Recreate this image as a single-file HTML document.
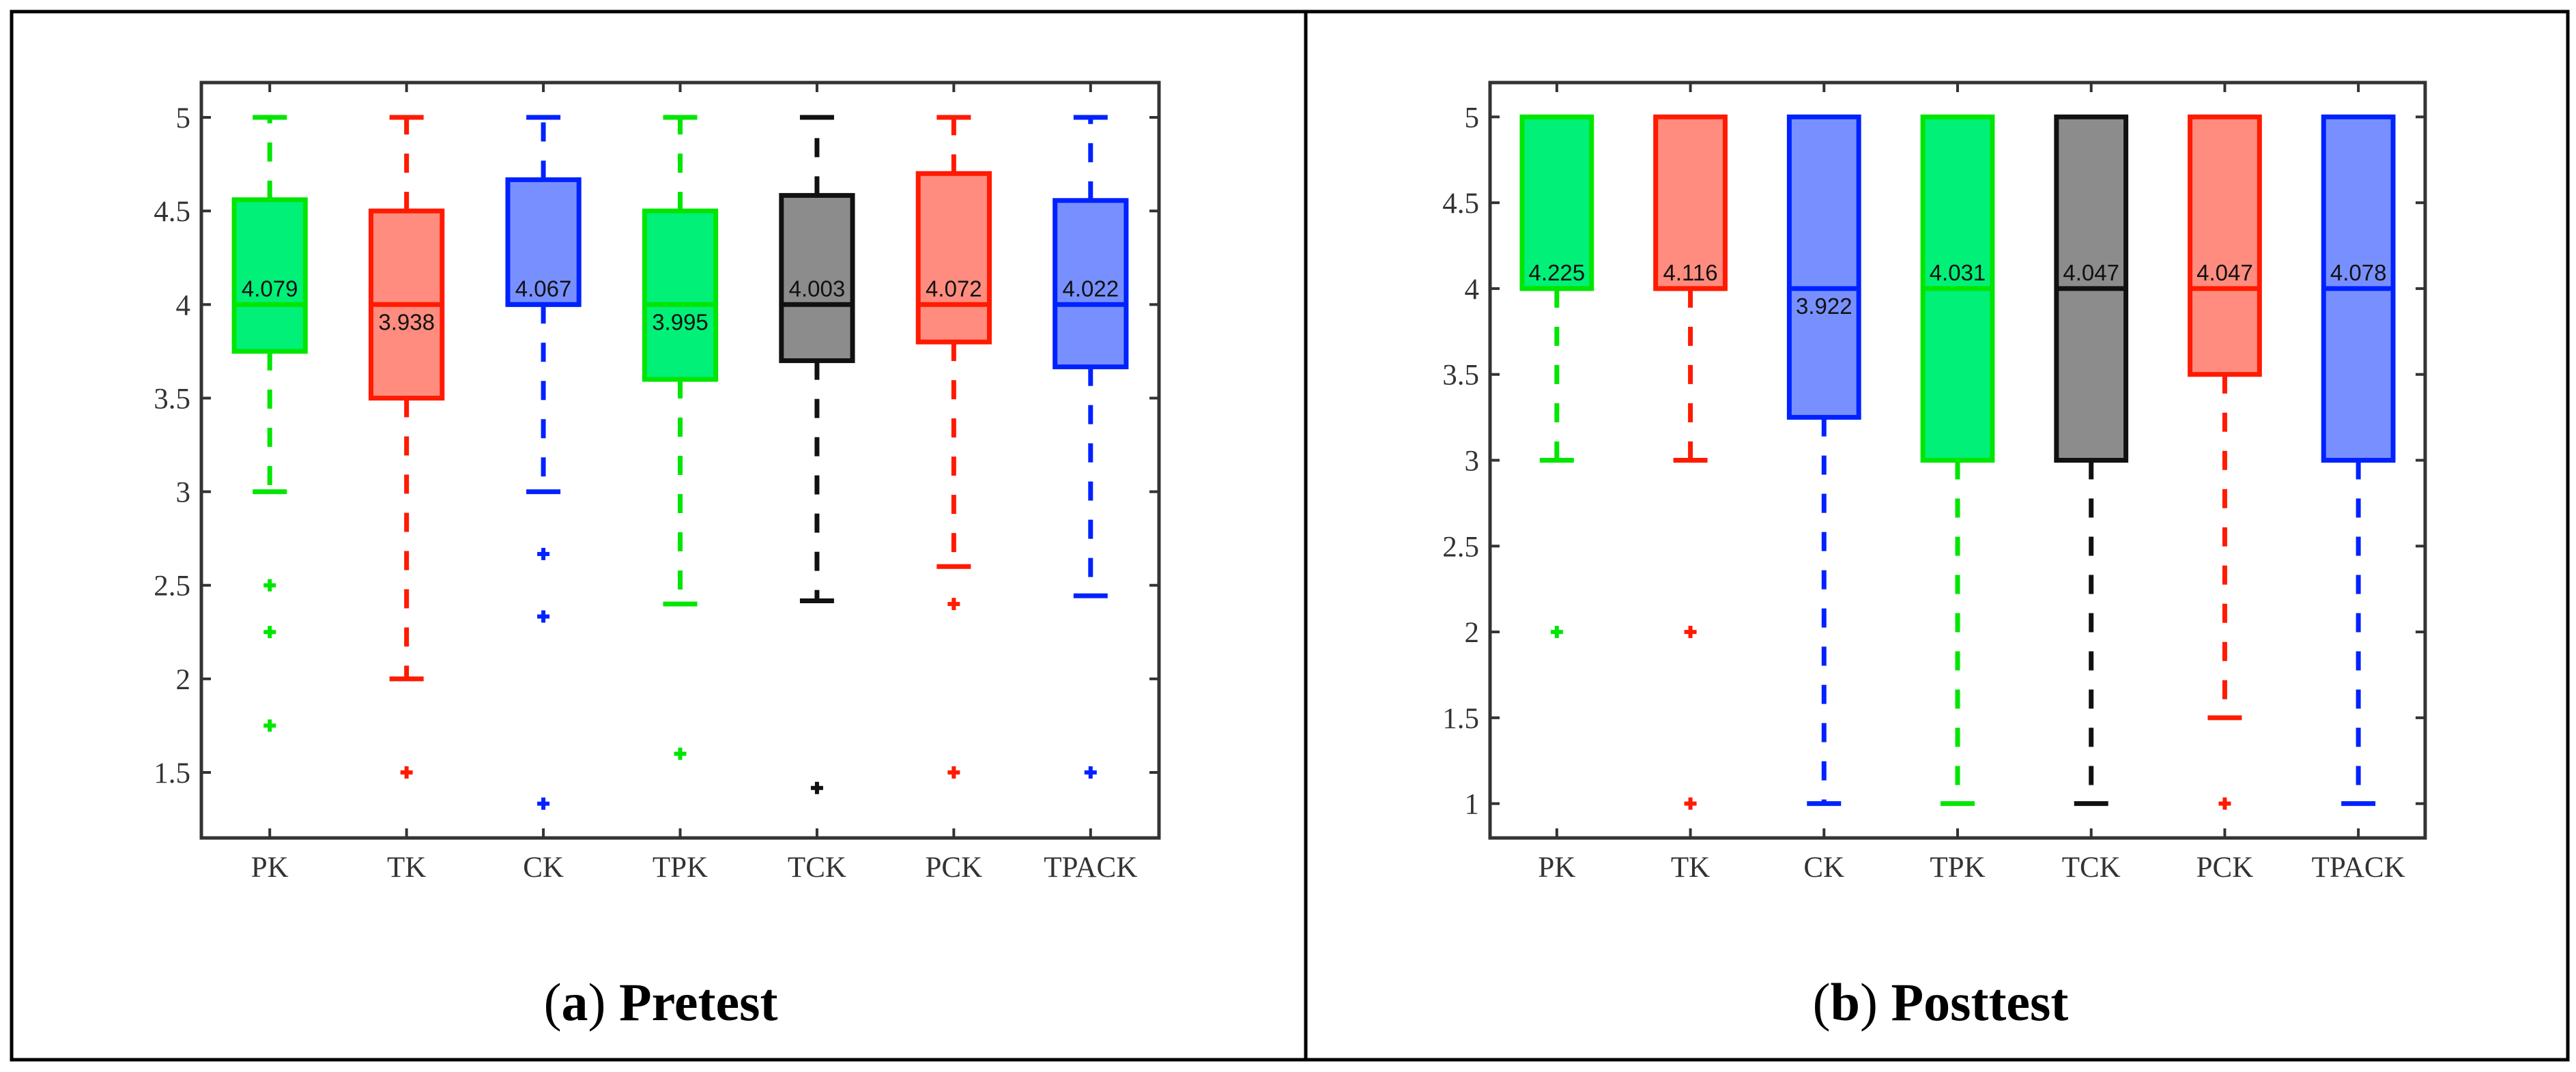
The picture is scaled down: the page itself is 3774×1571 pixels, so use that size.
<!DOCTYPE html>
<html><head><meta charset="utf-8"><style>
html,body{margin:0;padding:0;background:#fff;}
svg{display:block;}
.tk{font-family:"Liberation Serif",serif;font-size:43px;fill:#333;}
.ml{font-family:"Liberation Sans",sans-serif;font-size:33px;fill:#111;}
.ttl{font-family:"Liberation Serif",serif;font-size:78px;fill:#000;}
</style></head><body>
<svg id="fig" width="3774" height="1571" viewBox="0 0 3774 1571">
<rect x="17" y="17" width="3745" height="1536" fill="none" stroke="#000" stroke-width="5"/>
<line x1="1913" y1="17" x2="1913" y2="1553" stroke="#000" stroke-width="5"/>
<text class="ttl" x="968" y="1495" text-anchor="middle">(<tspan font-weight="bold">a</tspan>) <tspan font-weight="bold">Pretest</tspan></text>
<text class="ttl" x="2843" y="1495" text-anchor="middle">(<tspan font-weight="bold">b</tspan>) <tspan font-weight="bold">Posttest</tspan></text>
<g id="pa"></g>
<g id="pb"></g>
</svg>
<script>
const categories = ["PK","TK","CK","TPK","TCK","PCK","TPACK"];
const edgeColors = ["#00e600","#ff1a00","#0022ff","#00e600","#111111","#ff1a00","#0022ff"];
const fillColors = ["#00f078","#ff8c7e","#7890ff","#00f078","#8c8c8c","#ff8c7e","#7890ff"];
// Pretest
const preQ1 = [3.75,3.5,4,3.6,3.7,3.8,3.667];
const preMed = [4,4,4,4,4,4,4];
const preQ3 = [4.56,4.5,4.667,4.5,4.583,4.7,4.556];
const preLow = [3,2,3,2.4,2.417,2.6,2.444];
const preHigh = [5,5,5,5,5,5,5];
const preMean = [4.079,3.938,4.067,3.995,4.003,4.072,4.022];
const preOut = [[2.5,2.25,1.75],[1.5],[2.667,2.333,1.333],[1.6],[1.417],[2.4,1.5],[1.5]];
const preTicks = [1.5,2,2.5,3,3.5,4,4.5,5];
const preTickLabels = ["1.5","2","2.5","3","3.5","4","4.5","5"];
// Posttest
const postQ1 = [4,4,3.25,3,3,3.5,3];
const postMed = [4,4,4,4,4,4,4];
const postQ3 = [5,5,5,5,5,5,5];
const postLow = [3,3,1,1,1,1.5,1];
const postHigh = [5,5,5,5,5,5,5];
const postMean = [4.225,4.116,3.922,4.031,4.047,4.047,4.078];
const postOut = [[2],[2,1],[],[],[],[1],[]];
const postTicks = [1,1.5,2,2.5,3,3.5,4,4.5,5];
const postTickLabels = ["1","1.5","2","2.5","3","3.5","4","4.5","5"];

const NS="http://www.w3.org/2000/svg";
function mk(parent,tag,attrs){const e=document.createElementNS(NS,tag);for(const k in attrs)e.setAttribute(k,attrs[k]);parent.appendChild(e);return e;}

function drawChart(g,cfg){
  const L=cfg.left,R=cfg.right,T=121,B=1228;
  const yS=v=>B-(v-cfg.ymin)/(cfg.ymax-cfg.ymin)*(B-T);
  const step=(R-L)/categories.length;
  const xS=i=>L+step*(i+0.5);
  const bw=step*0.52, cw=50;
  cfg.ticks.forEach((t,i)=>{
    const y=yS(t);
    let l=mk(g,'line',{x1:L,y1:y,x2:L+14,y2:y,stroke:'#333','stroke-width':4});
    
    
    l=mk(g,'line',{x1:R,y1:y,x2:R-14,y2:y,stroke:'#333','stroke-width':4});
    
    
    const tx=mk(g,'text',{x:L-16,y:y+15,'text-anchor':'end',class:'tk'});
    tx.textContent=cfg.tickLabels[i];
    
    
  });
  categories.forEach((c,i)=>{
    const x=xS(i);
    let l=mk(g,'line',{x1:x,y1:B,x2:x,y2:B-14,stroke:'#333','stroke-width':4});
    
    
    l=mk(g,'line',{x1:x,y1:T,x2:x,y2:T+14,stroke:'#333','stroke-width':4});
    
    
    const tx=mk(g,'text',{x:x,y:1285,'text-anchor':'middle',class:'tk'});
    tx.textContent=c;
    
    
  });
  categories.forEach((c,i)=>{
    const x=xS(i),ec=edgeColors[i],fc=fillColors[i];
    const grp=mk(g,'g',{});
    
    
    const q1=yS(cfg.q1[i]),q3=yS(cfg.q3[i]),lo=yS(cfg.low[i]),hi=yS(cfg.high[i]),md=yS(cfg.med[i]);
    if(cfg.high[i]>cfg.q3[i]){
      mk(grp,'line',{x1:x,y1:q3,x2:x,y2:hi,stroke:ec,'stroke-width':7,'stroke-dasharray':'28 28'});
      mk(grp,'line',{x1:x-cw/2,y1:hi,x2:x+cw/2,y2:hi,stroke:ec,'stroke-width':7});
    }
    if(cfg.low[i]<cfg.q1[i]){
      mk(grp,'line',{x1:x,y1:q1,x2:x,y2:lo,stroke:ec,'stroke-width':7,'stroke-dasharray':'28 28'});
      mk(grp,'line',{x1:x-cw/2,y1:lo,x2:x+cw/2,y2:lo,stroke:ec,'stroke-width':7});
    }
    mk(grp,'rect',{x:x-bw/2,y:q3,width:bw,height:Math.max(q1-q3,0.1),fill:fc,stroke:ec,'stroke-width':7});
    mk(grp,'line',{x1:x-bw/2,y1:md,x2:x+bw/2,y2:md,stroke:ec,'stroke-width':7});
    cfg.out[i].forEach(v=>{
      const y=yS(v);
      const p=mk(grp,'path',{d:`M${x-9},${y}H${x+9}M${x},${y-9}V${y+9}`,stroke:ec,'stroke-width':6});
      
      
    });
    const above=cfg.mean[i]>=cfg.med[i];
    const ty=above?md-12:md+37;
    const t=mk(g,'text',{x:x,y:ty,'text-anchor':'middle',class:'ml'});
    t.textContent=cfg.mean[i].toFixed(3);
    
    
  });
  const ax=mk(g,'rect',{x:L,y:T,width:R-L,height:B-T,fill:'none',stroke:'#333','stroke-width':5});
  
  
}
drawChart(document.getElementById('pa'),{left:295,right:1698,ymin:1.15,ymax:5.186,ticks:preTicks,tickLabels:preTickLabels,q1:preQ1,med:preMed,q3:preQ3,low:preLow,high:preHigh,mean:preMean,out:preOut});
drawChart(document.getElementById('pb'),{left:2183,right:3553,ymin:0.8,ymax:5.2,ticks:postTicks,tickLabels:postTickLabels,q1:postQ1,med:postMed,q3:postQ3,low:postLow,high:postHigh,mean:postMean,out:postOut});
</script>
</body></html>
